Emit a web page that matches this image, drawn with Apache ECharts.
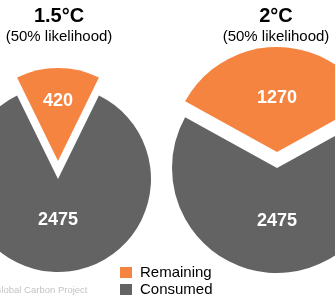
<!DOCTYPE html>
<html>
<head>
<meta charset="utf-8">
<script src="https://cdn.jsdelivr.net/npm/echarts@6/dist/echarts.min.js"></script>
<style>
html,body{margin:0;padding:0;background:#fff;}
#c{width:335px;height:300px;}
</style>
</head>
<body>
<div id="c"></div>
<script>
const categories = ['Remaining', 'Consumed'];
const targets = ['1.5°C', '2°C'];
const subtitles = ['(50% likelihood)', '(50% likelihood)'];
const remaining = [420, 1270];
const consumed = [2475, 2475];
const source = 'Global Carbon Project';

const colors = ['#F68441', '#636363'];
const FONT = '"Liberation Sans", Arial, sans-serif';
const layouts = [
  { center: [58, 170], radius: 93, offset: 9, dy: [-10, -8], titleX: 54 },
  { center: [277, 160], radius: 105, offset: 8, dy: [2, -2], titleX: 271 }
];

const chart = echarts.init(document.getElementById('c'), null, { renderer: 'canvas' });

const series = targets.map((t, i) => {
  const L = layouts[i];
  const total = remaining[i] + consumed[i];
  const vals = [remaining[i], consumed[i]];
  return {
    type: 'pie',
    name: t,
    center: L.center,
    radius: [0, L.radius],
    startAngle: 90 + 180 * remaining[i] / total,
    clockwise: true,
    selectedMode: 'multiple',
    selectedOffset: L.offset,
    avoidLabelOverlap: false,
    emphasis: { scale: false, disabled: true },
    labelLine: { show: false },
    label: {
      show: true,
      position: 'inside',
      color: '#fff',
      fontWeight: 'bold',
      fontSize: 18,
      fontFamily: FONT,
      formatter: '{c}'
    },
    labelLayout: function (p) { return { dy: L.dy[p.dataIndex] }; },
    data: categories.map((c, k) => ({
      name: c,
      value: vals[k],
      selected: true,
      itemStyle: { color: colors[k], borderWidth: 0 }
    }))
  };
});

chart.setOption({
  animation: false,
  color: colors,
  title: targets.map((t, i) => ({
    text: t, subtext: subtitles[i],
    left: layouts[i].titleX, top: 1, textAlign: 'center', itemGap: 3,
    textStyle: { fontSize: 20, fontWeight: 'bold', color: '#000', fontFamily: FONT },
    subtextStyle: { fontSize: 15, color: '#000', fontFamily: FONT }
  })).concat([{
    text: source,
    left: -6, top: 285, padding: 0,
    textStyle: { fontSize: 9.5, fontWeight: 'normal', color: '#c4c4c4', fontFamily: FONT }
  }]),
  legend: {
    data: categories,
    orient: 'vertical',
    left: 120, top: 265,
    padding: 0,
    itemWidth: 12, itemHeight: 11,
    itemGap: 2,
    icon: 'rect',
    selectedMode: false,
    textStyle: { fontSize: 15, color: '#000', fontFamily: FONT, padding: [0, 0, 0, 3], lineHeight: 15 }
  },
  series: series
});
</script>
</body>
</html>
